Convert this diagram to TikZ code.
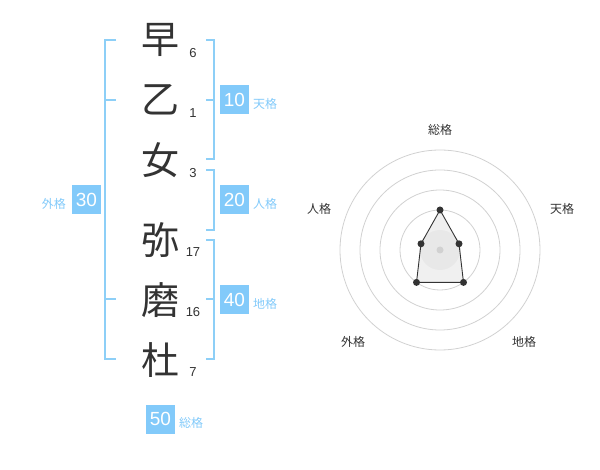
\documentclass[tikz,border=0pt]{standalone}
\usepackage{fontspec}
\setmainfont{Liberation Sans}
\newfontfamily\jpfont{Noto Sans CJK JP}
\definecolor{kaku}{HTML}{82CAFA}
\definecolor{kakuline}{HTML}{8DCFF7}
\definecolor{moji}{HTML}{333333}
\begin{document}
\begin{tikzpicture}[x=1pt,y=-1pt,
	kanji/.style={ text=moji, inner sep=0pt, font=\jpfont\fontsize{38}{38}\selectfont },
	kakusu/.style={ text=moji, inner sep=0pt, font=\fontsize{13}{13}\selectfont },
	kakubox/.style={ fill=kaku, text=white, minimum size=29pt, inner sep=0pt, font=\fontsize{19}{19}\selectfont },
	kakuname/.style={ text=kaku, inner sep=0pt, font=\jpfont\fontsize{12}{12}\selectfont },
	bracket/.style={ kakuline, line width=2pt },
	ring/.style={ black!18, line width=0.8pt },
	axis/.style={ text=moji, inner sep=0pt, font=\jpfont\fontsize{12}{12}\selectfont },
	dot/.style={ circle, fill=moji, inner sep=0pt, minimum size=7pt }
]
\useasboundingbox (0,0) rectangle (600,470);

\node[kanji] at (160,40) (c1) {早};
\node[kanji] at (160,100) (c2) {乙};
\node[kanji] at (160,160) (c3) {女};
\node[kanji] at (160,240) (c4) {弥};
\node[kanji] at (160,300) (c5) {磨};
\node[kanji] at (160,360) (c6) {杜};

\node[kakusu] at (193,53) (n1) {6};
\node[kakusu] at (193,113) (n2) {1};
\node[kakusu] at (193,173) (n3) {3};
\node[kakusu] at (193,252) (n4) {17};
\node[kakusu] at (193,312) (n5) {16};
\node[kakusu] at (193,372) (n6) {7};

\draw[bracket] (116,40) -- (105,40) -- (105,359) -- (116,359);
\draw[bracket] (105,100) -- (116,100);
\draw[bracket] (105,299) -- (116,299);
\draw[bracket] (206,40) -- (214,40) -- (214,159) -- (206,159);
\draw[bracket] (206,100) -- (214,100);
\draw[bracket] (206,170) -- (214,170) -- (214,230) -- (206,230);
\draw[bracket] (206,240) -- (214,240) -- (214,359) -- (206,359);
\draw[bracket] (206,299) -- (214,299);

\node[kakubox] at (234.5,100) (ten) {10};
\node[kakuname, anchor=west] at (253,104) (tenl) {天格};
\node[kakubox] at (234.5,200) (jin) {20};
\node[kakuname, anchor=west] at (253,204) (jinl) {人格};
\node[kakubox] at (234.5,300) (chi) {40};
\node[kakuname, anchor=west] at (253,304) (chil) {地格};
\node[kakubox] at (86.5,200) (gai) {30};
\node[kakuname, anchor=east] at (66,204) (gail) {外格};
\node[kakubox] at (160.5,419) (so) {50};
\node[kakuname, anchor=west] at (179,423) (sol) {総格};

\foreach \r in {20,40,...,100}
	\draw[ring] (440,250) circle[radius=\r pt];

\coordinate (pso) at (440,210);
\coordinate (pten) at (459,243.8);
\coordinate (pchi) at (463.5,282.4);
\coordinate (pgai) at (416.5,282.4);
\coordinate (pjin) at (421,243.8);
\draw[moji, fill=black!6, line width=0.9pt] (pso) -- (pten) -- (pchi) -- (pgai) -- (pjin) -- cycle;
\fill[black, opacity=0.03] (440,250) circle[radius=20pt];
\node[circle, fill=black!18, inner sep=0pt, minimum size=7pt] at (440,250) (mid) {};
\node[dot] at (pso) (dso) {};
\node[dot] at (pten) (dten) {};
\node[dot] at (pchi) (dchi) {};
\node[dot] at (pgai) (dgai) {};
\node[dot] at (pjin) (djin) {};

\node[axis] at (440,130) (aso) {総格};
\node[axis] at (562,209) (aten) {天格};
\node[axis] at (319,209) (ajin) {人格};
\node[axis] at (353,342) (agai) {外格};
\node[axis] at (524,342) (achi) {地格};

\end{tikzpicture}
\end{document}
